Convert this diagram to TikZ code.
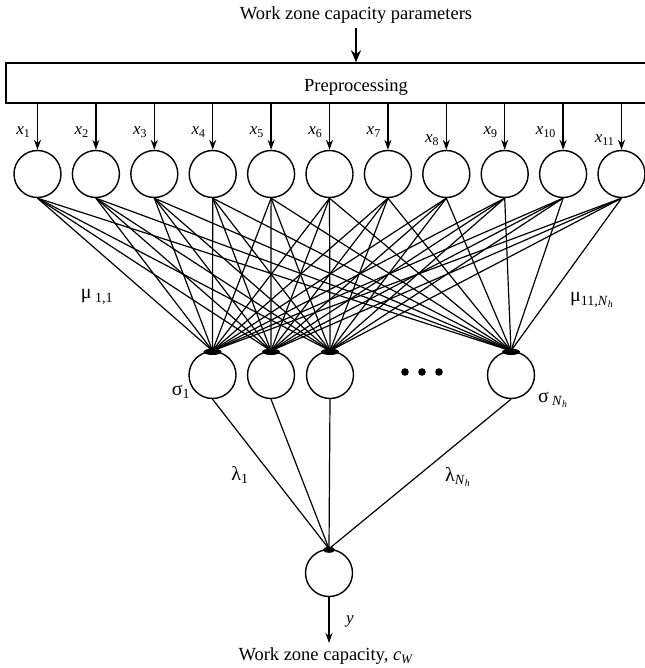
\documentclass[tikz,border=0pt]{standalone}
\usepackage{fontspec}
\setmainfont{Liberation Serif}
\usetikzlibrary{arrows.meta}

\newcommand\lab[2]{#1\textsubscript{#2}}

\tikzset{
  neuron/.style={circle, draw, line width=1.4pt, minimum size=47pt, inner sep=0pt},
  link/.style={line width=1.2pt},
  feed/.style={line width=1.3pt, -{Stealth[length=10pt,width=7pt]}},
  bigfeed/.style={line width=2pt, -{Stealth[length=12pt,width=10pt]}},
  inlab/.style={font=\fontsize{17}{17}\selectfont\itshape, anchor=east, inner sep=0pt},
  greek/.style={font=\fontsize{20}{20}\selectfont, inner sep=0pt},
  txt/.style={font=\fontsize{18.5}{18.5}\selectfont, inner sep=0pt},
}

\begin{document}
\begin{tikzpicture}[x=1pt, y=-1pt]
\useasboundingbox (0,0) rectangle (644,668);

% input caption and preprocessing block
\node[txt] (title) at (356,15) {Work zone capacity parameters};
\node[draw, line width=1.4pt, minimum width=654pt, minimum height=40pt,
      inner sep=0pt] (pre) at (333,83) {};
\node[txt] (pretext) at (356,87) {Preprocessing};
\draw[bigfeed] ([yshift=-4pt]title.south) -- (title.south |- pre.north);

% input layer
\foreach \i in {1,...,11} {
  \pgfmathsetmacro{\xx}{37.5+58.4*(\i-1)}
  \node[neuron] (in\i) at (\xx,174) {};
  \draw[feed] (pre.south -| in\i.north) -- (in\i.north);
}
\foreach \i/\dy in {1/132,2/132,3/132,4/132,5/132,6/132,7/132,8/140,9/132,10/132,11/140} {
  \node[inlab] (xl\i) at ([xshift=-7pt]in\i.north |- 0,\dy) {\lab{x}{\upshape\i}};
}

% hidden layer
\node[neuron] (h1) at (212.5,375) {};
\node[neuron] (h2) at (271,375) {};
\node[neuron] (h3) at (330,375) {};
\node[neuron] (hN) at (511,375) {};

\foreach \i in {1,...,11} {
  \foreach \h in {h1,h2,h3,hN} {
    \draw[link] (in\i.south) -- (\h.north);
  }
}
\foreach \h in {h1,h2,h3,hN} {
  \fill ([yshift=-1pt]\h.north) ellipse (9pt and 3.2pt);
}

% ellipsis between hidden units
\foreach \k/\xx in {1/405,2/422,3/439} {
  \fill (\xx,372) coordinate (dot\k) circle (3.8pt);
}

% output unit
\node[neuron] (out) at (329,573) {};
\foreach \h in {h1,h2,h3,hN} {
  \draw[link] (\h.south) -- (out.north);
}
\fill ([yshift=-1pt]out.north) ellipse (6pt and 3pt);
\coordinate (yend) at (329,643);
\draw[feed] (out.south) -- (yend);

% labels
\node[greek] (mu11) at (97,297) {μ\,\textsubscript{1,1}};
\node[greek] (muN) at (592,300) {μ\textsubscript{11,\textit{N}\textsubscript{\textit{h}}}};
\node[greek] (s1) at (181,392) {σ\textsubscript{1}};
\node[greek] (sN) at (553,400) {σ\,\textsubscript{\textit{N}\textsubscript{\textit{h}}}};
\node[greek] (l1) at (240,475) {λ\textsubscript{1}};
\node[greek] (lN) at (458,477) {λ\textsubscript{\textit{N}\textsubscript{\textit{h}}}};
\node[inlab, anchor=center] (ylab) at (350,621) {y};
\node[txt] (cap) at (326,656) {Work zone capacity, \textit{c}\textsubscript{\textit{W}}};
\end{tikzpicture}
\end{document}
